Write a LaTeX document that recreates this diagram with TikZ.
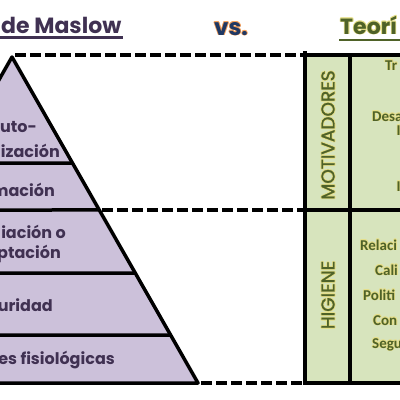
\documentclass[tikz,border=0pt]{standalone}
\usepackage{fontspec}
\setmainfont{Poppins}
\newfontfamily\calib{Carlito}
\newfontfamily\popemb{Poppins}[FakeBold=1.4]
\usetikzlibrary{calc}
\definecolor{lav}{HTML}{CCC1DA}
\definecolor{purp}{HTML}{403152}
\definecolor{tgreen}{HTML}{D7E4BD}
\definecolor{olive}{HTML}{4F6228}
\definecolor{navy}{HTML}{1F3864}
\definecolor{orglow}{HTML}{F5A25D}
\definecolor{yglow}{HTML}{E6DF8A}
\tikzset{
 pyr/.style={line width=3.5pt, black},
 dashln/.style={line width=4.5pt, black, dash pattern=on 11pt off 4pt},
 tabln/.style={line width=4pt, black},
 ptext/.style={inner sep=0, anchor=base east, text=purp, font=\fontsize{16}{18}\selectfont\bfseries},
 gtxt/.style={inner sep=0, anchor=base west, font=\calib\fontsize{15}{17}\selectfont\bfseries},
}
% name, position (x,y without parentheses), options, glow colour, text colour, text
\newcommand\gtext[6]{%
  \foreach \dx/\dy [count=\k] in {0.8/0,-0.8/0,0/0.8,0/-0.8,0.55/0.55,-0.55/0.55,0.55/-0.55,-0.55/-0.55}
    {\node[inner sep=0,#3,text=#4] (#1g\k) at ([shift={(\dx pt,\dy pt)}]#2) {#6};}
  \node[inner sep=0,#3,text=#5] (#1) at (#2) {#6};
}
\begin{document}
\begin{tikzpicture}[x=1pt,y=-1pt]
\useasboundingbox (0,0) rectangle (400,400);
\clip (0,0) rectangle (400,400);
% table background
\fill[tgreen] (305,55) rectangle (400,383);
% pyramid
\coordinate (apex) at (12,57);
\coordinate (br) at (198,383);
\coordinate (bl) at (-174,383);
\fill[lav] (bl) -- (apex) -- (br) -- cycle;
\coordinate (e1) at ($(apex)!0.3252!(br)$);
\coordinate (e2) at ($(apex)!0.4693!(br)$);
\coordinate (e3) at ($(apex)!0.6626!(br)$);
\coordinate (e4) at ($(apex)!0.8528!(br)$);
\coordinate (w1) at (0,163);
\coordinate (w2) at (0,210);
\coordinate (w3) at (0,273);
\coordinate (w4) at (0,335);
\draw[pyr] (w1) -- (e1);
\draw[pyr] (w2) -- (e2);
\draw[pyr] (w3) -- (e3);
\draw[pyr] (w4) -- (e4);
\draw[pyr, line join=round] (bl) -- (apex) -- (br) -- cycle;
% dashed connectors
\coordinate (d0) at (15,55);
\coordinate (d1) at (102,210);
\coordinate (d2) at (201,383);
\coordinate (t0) at (303,55);
\coordinate (t1) at (303,210);
\coordinate (t2) at (303,383);
\draw[dashln] (d0) -- (t0);
\draw[dashln] (d1) -- (t1);
\draw[dashln] (d2) -- (t2);
% table lines
\draw[tabln] (t0) -- (400,55);
\draw[tabln] (t1) -- (400,210);
\draw[tabln] (t2) -- (400,383);
\draw[tabln] (305,51) -- (305,385);
\draw[tabln] (350,53) -- (350,385);
% titles
\node[inner sep=0, anchor=base west, text=purp, font=\fontsize{22}{24}\selectfont\bfseries] (maslow) at (1,33) {de Maslow};
\draw[purp, line width=2.2pt] (0,37.5) -- (123,37.5);
\gtext{vs}{214,35}{anchor=base west,font=\fontsize{23}{24}\selectfont\bfseries}{orglow}{navy}{vs.}
\gtext{teo}{340,34}{anchor=base west,font=\fontsize{22}{24}\selectfont\bfseries}{yglow}{olive}{Teorí}
\draw[olive, line width=2.5pt] (339,40) -- (400,40);
% pyramid texts
\node[ptext] (p1) at (37,132) {uto-};
\node[ptext] (p2) at (60,157) {ización};
\node[ptext] (p3) at (55,196) {mación};
\node[ptext] (p4) at (66,238) {iación o};
\node[ptext] (p5) at (61,258) {ptación};
\node[ptext] (p6) at (53,311) {uridad};
\node[ptext] (p7) at (115,364) {es fisiológicas};
% column headings
\gtext{mot}{328,135}{rotate=90,font=\popemb\fontsize{18.5}{20}\selectfont}{yglow}{olive}{MOTIVADORES}
\gtext{hig}{328,295}{rotate=90,font=\popemb\fontsize{18.5}{20}\selectfont}{yglow}{olive}{HIGIENE}
% factor texts
\gtext{f1}{385,70}{gtxt}{yglow}{olive}{Tr}
\gtext{f2}{372,121}{gtxt}{yglow}{olive}{Desa}
\gtext{f3}{396.5,135}{gtxt}{yglow}{olive}{I}
\gtext{f4}{396.5,191}{gtxt}{yglow}{olive}{I}
\gtext{f5}{360,250}{gtxt}{yglow}{olive}{Relaci}
\gtext{f6}{375,275}{gtxt}{yglow}{olive}{Cali}
\gtext{f7}{363,300}{gtxt}{yglow}{olive}{Politi}
\gtext{f8}{373,325}{gtxt}{yglow}{olive}{Con}
\gtext{f9}{372,348}{gtxt}{yglow}{olive}{Segu}
\end{tikzpicture}
\end{document}
